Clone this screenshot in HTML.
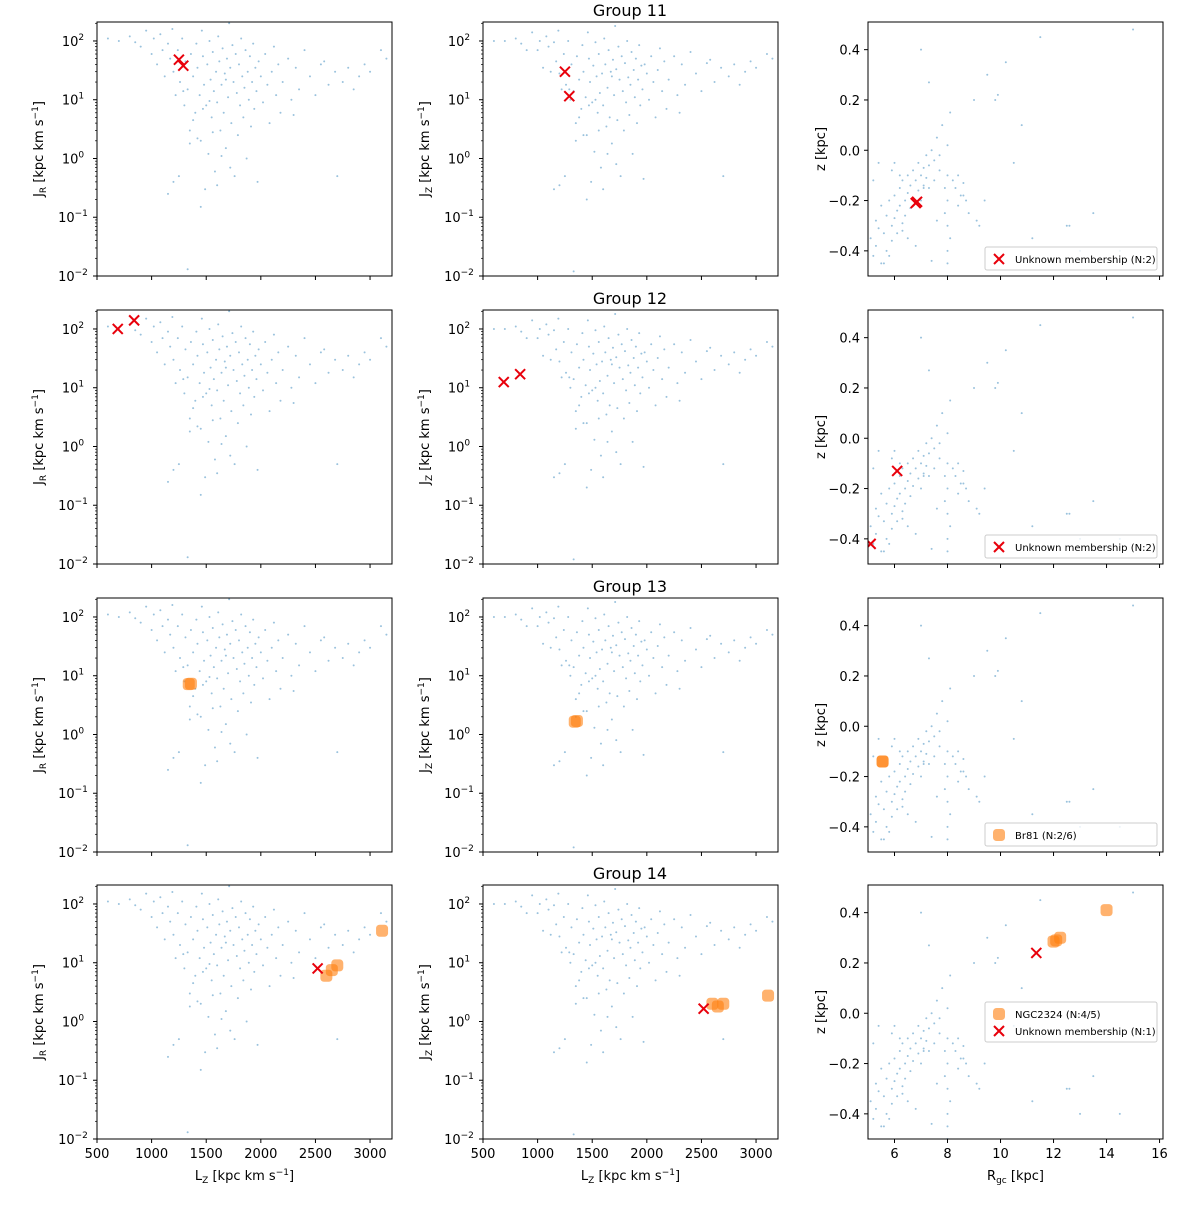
<!DOCTYPE html>
<html><head><meta charset="utf-8">
<style>
body{margin:0;background:#fff;}
svg text{font-family:"DejaVu Sans","Liberation Sans",sans-serif;fill:#000;}
</style></head>
<body>
<svg id="fig" width="1200" height="1200" viewBox="0 0 1200 1200" xmlns="http://www.w3.org/2000/svg"></svg>
<script>
// background action sample: [Lz, JR, JZ]
const bgLz = [800,850,900,950,1000,1020,1050,1080,1100,1120,1150,1170,1190,1200,1220,1240,1260,1280,1300,1310,1330,1350,1360,1380,1400,1410,1420,1440,1450,1460,1470,1480,1490,1500,1510,1520,1530,1540,1550,1560,1570,1580,1590,1600,1610,1620,1630,1640,1650,1660,1670,1680,1690,1700,1710,1720,1730,1740,1750,1760,1770,1780,1790,1800,1810,1820,1830,1840,1850,1860,1870,1880,1890,1900,1910,1920,1930,1940,1950,1960,1970,1980,2000,2020,2040,2060,2080,2100,2120,2140,2160,2180,2200,2250,2280,2300,2320,2350,2400,2450,2500,2550,2580,2620,2680,2700,2750,2800,2850,2900,2950,3000,3100,3150,1330,1200,1250,1450,1600,700,600,1150,1350,1420,1560,1640,1720,1380,1470,1530,1290,1680];
const bgJR = [120,95,80,150,60,110,40,130,70,25,90,50,160,30,12,70,20,110,8,45,15,3,60,25,6,90,35,12,2,150,55,18,0.3,8,40,1.2,100,22,5,65,14,0.6,30,9,120,45,3,18,75,6,28,1.5,50,11,200,35,4,85,20,0.5,60,13,2.5,40,8,110,25,5,16,70,1,30,10,55,3.5,20,90,7,35,14,0.4,45,25,9,60,18,4,30,80,12,40,6,20,50,10,5.5,35,15,70,25,12,40,45,18,30,0.5,20,35,15,25,40,30,70,50,0.013,0.4,0.5,0.15,0.35,100,110,0.25,1.8,2.2,2.8,1.1,0.7,4.5,7,9.5,14,22];
const bgJZ = [110,90,70,140,70,100,35,120,80,30,95,45,150,28,15,60,18,100,10,40,14,4,55,22,7,85,30,11,2.5,140,50,20,0.4,9,38,1.3,95,25,6,60,13,0.7,28,8,110,40,3.5,16,70,5,30,1.8,48,12,180,33,4.5,80,22,0.5,55,14,3,42,9,100,24,5.5,18,65,1.2,32,11,50,4,22,85,8,38,15,0.45,40,28,10,55,20,5,32,75,14,45,7,22,55,12,6,40,18,65,28,14,42,48,20,35,0.5,25,40,18,30,45,35,60,50,0.012,0.35,0.5,0.2,0.3,100,100,0.3,2,2.5,3,1.2,0.8,5,8,10,15,25];
// background positions
const bgR = [5.1,5.2,5.3,5.3,5.4,5.5,5.5,5.6,5.7,5.7,5.8,5.9,5.9,6.0,6.0,6.1,6.1,6.2,6.2,6.3,6.3,6.4,6.4,6.5,6.5,6.6,6.6,6.7,6.7,6.8,6.9,6.9,7.0,7.0,7.1,7.1,7.2,7.2,7.3,7.3,7.4,7.5,7.5,7.6,7.7,7.8,7.9,8.0,8.0,8.0,8.0,8.0,8.0,8.0,8.1,8.2,8.3,8.4,8.5,8.6,8.7,8.8,9.0,9.2,9.5,9.8,10.2,10.8,11.5,12.5,13.5,14.5,15.0,7.3,7.0,7.9,8.1,8.4,9.9,10.5,11.2,12.6,13.0,5.2,5.4,5.6,6.3,6.8,7.4,7.6,9.4,6.0,6.5,5.8,7.1,8.6,9.1,7.7,6.2,5.9];
const bgZ = [-0.35,-0.42,-0.28,-0.38,-0.31,-0.22,-0.45,-0.33,-0.26,-0.4,-0.2,-0.3,-0.36,-0.18,-0.27,-0.24,-0.33,-0.15,-0.22,-0.29,-0.12,-0.2,-0.26,-0.1,-0.17,-0.23,-0.14,-0.08,-0.19,-0.12,-0.05,-0.16,-0.1,-0.2,-0.07,-0.14,-0.02,-0.11,-0.06,-0.15,0.0,-0.04,-0.12,0.05,-0.08,0.1,-0.15,-0.5,-0.4,-0.3,-0.2,-0.1,0.02,-0.45,0.15,-0.12,-0.15,-0.1,-0.18,-0.13,-0.2,-0.25,0.2,-0.3,0.3,0.2,0.35,0.1,0.45,-0.3,-0.25,-0.4,0.48,0.27,0.4,-0.25,-0.35,-0.22,0.22,-0.05,-0.35,-0.3,-0.4,-0.12,-0.05,-0.45,-0.32,-0.38,-0.44,-0.28,-0.2,-0.05,-0.35,-0.42,-0.15,-0.18,-0.28,-0.02,-0.1,-0.08];
// highlighted groups per row
const grpTitles = ["Group 11","Group 12","Group 13","Group 14"];
const orLz = [[],[],[1340,1360],[2600,2650,2700,3110]];
const orJR = [[],[],[7.2,7.3],[6,7.5,9,35]];
const orJZ = [[],[],[1.65,1.7],[2.0,1.8,2.0,2.75]];
const orR  = [[],[],[5.55,5.55],[12.0,12.1,12.25,14.0]];
const orZ  = [[],[],[-0.14,-0.14],[0.285,0.29,0.3,0.41]];
const xLz = [[1250,1290],[690,840],[],[2520]];
const xJR = [[48,38],[100,140],[],[8]];
const xJZ = [[30,11.5],[12.5,17],[],[1.65]];
const xR  = [[6.8,6.85],[6.1,5.1],[],[11.35]];
const xZ  = [[-0.21,-0.205],[-0.13,-0.42],[],[0.24]];
const legOr = ["","","Br81 (N:2/6)","NGC2324 (N:4/5)"];
const legX = ["Unknown membership (N:2)","Unknown membership (N:2)","","Unknown membership (N:1)"];
const lzTicks = [500,1000,1500,2000,2500,3000];
const rTicks = [6,8,10,12,14,16];
const zTicks = [0.4,0.2,0.0,-0.2,-0.4];
const logTicks = [-2,-1,0,1,2];

const NS="http://www.w3.org/2000/svg";
const svg=document.getElementById('fig');
function mk(tag,attrs,parent,txt){const e=document.createElementNS(NS,tag);for(const k in attrs)e.setAttribute(k,attrs[k]);if(txt!==undefined)e.textContent=txt;(parent||svg).appendChild(e);return e;}
const colL=[97,483,868], W=295, rowT=[22,310,598,885], H=254;
const lzMin=500, lzMax=3201, jMin=-2, jMax=2.323, rMin=5, rMax=16.13, zMin=-0.5, zMax=0.51;
function sxLz(c,v){return colL[c]+(v-lzMin)/(lzMax-lzMin)*W;}
function syLog(r,v){return rowT[r]+H-(Math.log10(v)-jMin)/(jMax-jMin)*H;}
function sxR(v){return colL[2]+(v-rMin)/(rMax-rMin)*W;}
function syZ(r,v){return rowT[r]+H-(v-zMin)/(zMax-zMin)*H;}

function orangeMark(g,x,y){const s=6;const p=mk('rect',{x:x-s,y:y-s,width:2*s,height:2*s,rx:3.5,fill:'#ff7f0e','fill-opacity':0.6},g);}
function crossMark(g,x,y){const s=5;const gg=mk('g',{stroke:'#e8000b','stroke-width':2},g);mk('line',{x1:x-s,y1:y-s,x2:x+s,y2:y+s},gg);mk('line',{x1:x-s,y1:y+s,x2:x+s,y2:y-s},gg);}
function dot(g,x,y){const d=mk('circle',{cx:x,cy:y,r:1,fill:'#1f77b4','fill-opacity':0.45},g);}

for(let r=0;r<4;r++){
  const t=mk('text',{x:630,y:rowT[r]-6,'text-anchor':'middle','font-size':16},svg,grpTitles[r]);
  
  for(let c=0;c<3;c++){
    const g=mk('g',{});
    
    
    const L=colL[c],T=rowT[r];
    const clip=mk('clipPath',{id:'cp'+r+c},g);mk('rect',{x:L,y:T,width:W,height:H},clip);
    const pg=mk('g',{'clip-path':'url(#cp'+r+c+')'},g);
    if(c<2){
      const J=c==0?bgJR:bgJZ;
      for(let i=0;i<bgLz.length;i++) dot(pg,sxLz(c,bgLz[i]),syLog(r,J[i]));
      const oJ=c==0?orJR[r]:orJZ[r];
      for(let i=0;i<orLz[r].length;i++) orangeMark(pg,sxLz(c,orLz[r][i]),syLog(r,oJ[i]));
      const xJ=c==0?xJR[r]:xJZ[r];
      for(let i=0;i<xLz[r].length;i++) crossMark(pg,sxLz(c,xLz[r][i]),syLog(r,xJ[i]));
      // y ticks
      for(const e of logTicks){
        const y=syLog(r,Math.pow(10,e));
        mk('line',{x1:L-4,y1:y,x2:L,y2:y,stroke:'#000','stroke-width':1},g);
        const tx=mk('text',{x:L-24,y:y+5,'text-anchor':'middle','font-size':13},g);
        tx.textContent='10';
        mk('tspan',{'font-size':9,dy:-6},tx,String(e).replace('-','\u2212'));
      }
      for(let e=-2;e<=2;e++)for(let m=2;m<=9;m++){const v=m*Math.pow(10,e);if(Math.log10(v)>jMax)continue;const y=syLog(r,v);mk('line',{x1:L-2,y1:y,x2:L,y2:y,stroke:'#000','stroke-width':0.7},g);}
      // x ticks
      for(const v of lzTicks){const x=sxLz(c,v);mk('line',{x1:x,y1:T+H,x2:x,y2:T+H+4,stroke:'#000','stroke-width':1},g);
        if(r==3){const tl=mk('text',{x:x,y:T+H+19,'text-anchor':'middle','font-size':13},g,String(v));}}
      // y label
      const yl=mk('text',{transform:'translate('+(L-54)+','+(T+H/2)+') rotate(-90)','text-anchor':'middle','font-size':13},g);
      
      yl.appendChild(document.createTextNode('J'));
      mk('tspan',{'font-size':9,dy:3},yl,c==0?'R':'Z');
      mk('tspan',{dy:-3},yl,' [kpc km s');
      mk('tspan',{'font-size':9,dy:-5},yl,'\u22121');
      mk('tspan',{dy:5},yl,']');
      if(r==3){const xl=mk('text',{x:L+W/2,y:T+H+41,'text-anchor':'middle','font-size':13},g);
        
        xl.appendChild(document.createTextNode('L'));mk('tspan',{'font-size':9,dy:3},xl,'Z');mk('tspan',{dy:-3},xl,' [kpc km s');mk('tspan',{'font-size':9,dy:-5},xl,'\u22121');mk('tspan',{dy:5},xl,']');}
    } else {
      for(let i=0;i<bgR.length;i++) dot(pg,sxR(bgR[i]),syZ(r,bgZ[i]));
      for(let i=0;i<orR[r].length;i++) orangeMark(pg,sxR(orR[r][i]),syZ(r,orZ[r][i]));
      for(let i=0;i<xR[r].length;i++) crossMark(pg,sxR(xR[r][i]),syZ(r,xZ[r][i]));
      for(const v of zTicks){const y=syZ(r,v);mk('line',{x1:L-4,y1:y,x2:L,y2:y,stroke:'#000'},g);
        mk('text',{x:L-8,y:y+5,'text-anchor':'end','font-size':13},g,v.toFixed(1).replace('-','\u2212'));}
      for(const v of rTicks){const x=sxR(v);mk('line',{x1:x,y1:T+H,x2:x,y2:T+H+4,stroke:'#000'},g);
        if(r==3)mk('text',{x:x,y:T+H+19,'text-anchor':'middle','font-size':13},g,String(v));}
      const yl=mk('text',{transform:'translate('+(L-43)+','+(T+H/2)+') rotate(-90)','text-anchor':'middle','font-size':13},g,'z [kpc]');
      
      if(r==3){const xl=mk('text',{x:L+W/2,y:T+H+41,'text-anchor':'middle','font-size':13},g);
        
        xl.appendChild(document.createTextNode('R'));mk('tspan',{'font-size':9,dy:3},xl,'gc');mk('tspan',{dy:-3},xl,' [kpc]');}
      // legend
      const items=[];if(legOr[r])items.push(['o',legOr[r]]);if(legX[r])items.push(['x',legX[r]]);
      const lh=items.length*17+6, lw=r==3?172:172;
      const lx=L+W-6-lw, ly=r==3?T+H/2-lh/2+10:T+H-6-lh;
      const lg=mk('g',{},g);
      mk('rect',{x:lx,y:ly,width:lw,height:lh,fill:'#fff','fill-opacity':0.8,stroke:'#ccc',rx:2},lg);
      items.forEach((it,k)=>{const yy=ly+12+k*17;
        if(it[0]=='o')orangeMark(lg,lx+14,yy);else crossMark(lg,lx+14,yy);
        const e=mk('text',{x:lx+30,y:yy+4,'font-size':10},lg,it[1]);});
    }
    mk('rect',{x:L,y:T,width:W,height:H,fill:'none',stroke:'#000','stroke-width':1},g);
  }
}
</script>
</body></html>
